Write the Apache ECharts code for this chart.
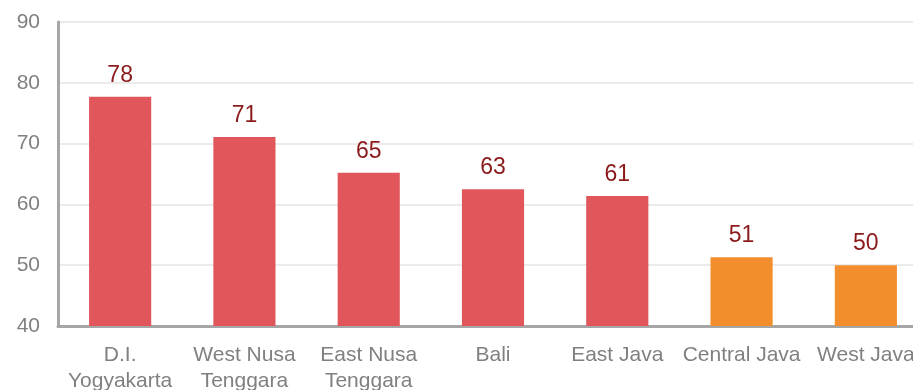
<!DOCTYPE html>
<html>
<head>
<meta charset="utf-8">
<script src="https://cdn.jsdelivr.net/npm/echarts@6/dist/echarts.min.js"></script>
<style>
  html, body { margin: 0; padding: 0; background: #fff; }
  #chart { width: 913px; height: 390px; }
</style>
</head>
<body>
<div id="chart"></div>
<script>
// Provinces, ordered by score
const provinces = ['D.I.\nYogyakarta', 'West Nusa\nTenggara', 'East Nusa\nTenggara', 'Bali', 'East Java', 'Central Java', 'West Java'];
const scores = [77.7, 71.1, 65.2, 62.5, 61.4, 51.3, 50.0];
const groupColors = ['#E0565B', '#E0565B', '#E0565B', '#E0565B', '#E0565B', '#F28E2C', '#F28E2C'];
const yTicks = [40, 50, 60, 70, 80, 90];

const chart = echarts.init(document.getElementById('chart'));
chart.setOption({
  animation: false,
  textStyle: { fontFamily: 'Liberation Sans, Arial, sans-serif' },
  // plot area runs a little past the right edge of the canvas
  grid: { left: 58, width: 870, top: 22, height: 304, containLabel: false, outerBoundsMode: 'none' },
  xAxis: {
    type: 'category',
    data: provinces,
    axisLine: { lineStyle: { color: '#A6A6A6', width: 3 } },
    axisTick: { show: false },
    axisLabel: { color: '#808080', fontSize: 21, lineHeight: 26, margin: 16, interval: 0 }
  },
  yAxis: {
    type: 'value',
    min: yTicks[0],
    max: yTicks[yTicks.length - 1],
    interval: 10,
    axisLine: { show: true, lineStyle: { color: '#A6A6A6', width: 3 } },
    axisTick: { show: false },
    splitLine: { lineStyle: { color: '#EBEBEB', width: 2 } },
    axisLabel: { color: '#808080', fontSize: 21, margin: 18 }
  },
  series: [{
    type: 'bar',
    barWidth: '50%',
    data: scores.map((v, i) => ({ value: v, itemStyle: { color: groupColors[i] } })),
    label: {
      show: true,
      position: 'top',
      distance: 10,
      color: '#8B1A1A',
      fontSize: 23,
      formatter: p => Math.round(p.value)
    }
  }]
});
</script>
</body>
</html>
